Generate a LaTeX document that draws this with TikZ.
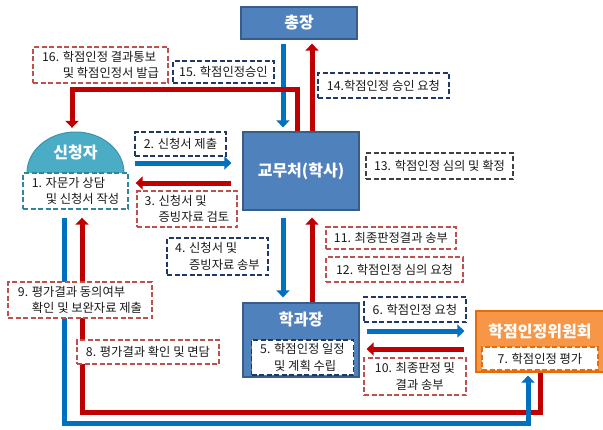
\documentclass[tikz,border=0pt]{standalone}
\usepackage{fontspec}
\setmainfont{Noto Sans CJK KR}
\usetikzlibrary{arrows.meta,calc}
\definecolor{boxblue}{HTML}{4F81BD}
\definecolor{boxblueline}{HTML}{385D8A}
\definecolor{boxteal}{HTML}{4BACC6}
\definecolor{boxtealline}{HTML}{3C93AB}
\definecolor{boxorange}{HTML}{F79646}
\definecolor{boxorangeline}{HTML}{E46C0A}
\definecolor{arrblue}{HTML}{0070C0}
\definecolor{arrred}{HTML}{C00000}
\definecolor{dashred}{HTML}{C0504D}
\definecolor{dashblue}{HTML}{1F3864}
\definecolor{dashgray}{HTML}{404040}
\definecolor{dashteal}{HTML}{31859C}
\definecolor{txtgray}{HTML}{1A1A1A}
\tikzset{
  mainbox/.style={rectangle,fill=boxblue,draw=boxblueline,line width=1.2pt,text=white,
    font=\fontsize{16}{19}\selectfont\bfseries},
  titletext/.style={text=white,font=\fontsize{16}{19}\selectfont\bfseries,inner sep=0pt},
  lbl/.style={rectangle,line width=1.4pt,dash pattern=on 5pt off 2.5pt,fill=white,
    text=txtgray,font=\fontsize{12.3}{16.5}\selectfont,inner sep=1pt,align=left},
  redlbl/.style={lbl,draw=dashred},
  bluelbl/.style={lbl,draw=dashblue},
  graylbl/.style={lbl,draw=dashgray},
  teallbl/.style={lbl,draw=dashteal},
  orangelbl/.style={lbl,draw=boxorangeline},
  bluearr/.style={draw=arrblue,line width=5pt,-{Triangle[width=13pt,length=7pt]}},
  redarr/.style={draw=arrred,line width=5pt,-{Triangle[width=13pt,length=7pt]}}
}
\begin{document}
\begin{tikzpicture}[x=1pt,y=-1pt]
\useasboundingbox (0,0) rectangle (603,429);
%boxes
\node[mainbox,minimum width=116pt,minimum height=32pt] (chong) at (299,23) {총장};
\node[mainbox,minimum width=116pt,minimum height=78pt] (gyomu) at (301,171) {교무처(학사)};
\node[mainbox,minimum width=116pt,minimum height=74pt] (hakgwa) at (301,340) {};
\node[titletext] (hakgwatitle) at (301,319) {학과장};
\node[bluelbl,minimum width=102pt,minimum height=35pt] (step5) at (302.5,357.5)
  {5. 학점인정 일정\\\phantom{5. }및 계획 수립};
\node[rectangle,fill=boxorange,draw=boxorangeline,line width=1.2pt,minimum width=128pt,
  minimum height=61pt] (wiwon) at (540,341.5) {};
\node[titletext] (wiwontitle) at (540,331) {학점인정위원회};
\node[orangelbl,minimum width=116pt,minimum height=23pt] (step7) at (540,358.5) {7. 학점인정 평가};
%dome
\filldraw[fill=boxteal,draw=boxtealline,line width=1pt] (27,173)
  arc[start angle=180,end angle=0,x radius=48.5pt,y radius=41pt];
\node[titletext,minimum width=97pt,minimum height=41pt] (sincheong) at (75.5,152.5) {신청자};
\node[teallbl,minimum width=105pt,minimum height=36pt] (step1) at (75.5,191)
  {1. 자문가 상담\\\phantom{1. }및 신청서 작성};
%arrows
\draw[bluearr,shorten <=4pt,shorten >=4pt] ([xshift=-16pt]chong.south) -- ([xshift=-16pt]chong.south |- gyomu.north);
\draw[redarr,shorten >=4pt] ([xshift=11pt]gyomu.north) -- ([xshift=11pt]gyomu.north |- chong.south);
\draw[redarr,shorten >=4pt] ([xshift=-4pt]gyomu.north) -- ++(0,-42) -| ([xshift=-3.5pt]sincheong.north);
\draw[bluearr,shorten <=11pt,shorten >=11pt] ([yshift=-10.5pt]sincheong.east) -- ([yshift=-10.5pt]sincheong.east -| gyomu.west);
\draw[redarr,shorten <=11pt,shorten >=7pt] ([yshift=-12pt]gyomu.west) -- ([yshift=-12pt]gyomu.west -| step1.east);
\draw[bluearr,shorten <=7pt,shorten >=5pt] ([xshift=-18pt]gyomu.south) -- ([xshift=-18pt]gyomu.south |- hakgwa.north);
\draw[redarr,shorten >=7pt] ([xshift=11pt]hakgwa.north) -- ([xshift=11pt]hakgwa.north |- gyomu.south);
\draw[bluearr,shorten <=7pt,shorten >=11pt] ([yshift=9pt]hakgwa.east) -- ([yshift=9pt]hakgwa.east -| wiwon.west);
\draw[redarr,shorten <=11pt,shorten >=7pt] ([yshift=-9pt]hakgwa.east -| wiwon.west) -- ([yshift=-9pt]hakgwa.east);
\draw[redarr,shorten >=8pt] (wiwon.south) -- ++(0,40) -| ([xshift=6.5pt]step1.south);
\draw[bluearr,shorten <=8pt,shorten >=3pt] ([xshift=-11.5pt]step1.south) -- ++(0,214) -| ([xshift=-12pt]wiwon.south);
%labels
\node[redlbl,minimum width=135pt,minimum height=36pt] (step16) at (100.5,65)
  {16. 학점인정 결과통보\\\phantom{16. }및 학점인정서 발급};
\node[bluelbl,minimum width=101pt,minimum height=22pt] (step15) at (223.5,72) {15. 학점인정승인};
\node[bluelbl,minimum width=131pt,minimum height=25pt] (step14) at (383.5,85.5) {14.학점인정 승인 요청};
\node[bluelbl,minimum width=91pt,minimum height=24pt] (step2) at (180.5,144) {2. 신청서 제출};
\node[redlbl,minimum width=100pt,minimum height=36pt] (step3) at (187,209)
  {3. 신청서 및\\\phantom{3. }증빙자료 검토};
\node[graylbl,minimum width=147pt,minimum height=26pt] (step13) at (439.5,166) {13. 학점인정 심의 및 확정};
\node[bluelbl,minimum width=101pt,minimum height=37pt] (step4) at (217.5,256.5)
  {4. 신청서 및\\\phantom{4. }증빙자료 송부};
\node[redlbl,minimum width=130pt,minimum height=22pt] (step11) at (391,238) {11. 최종판정결과 송부};
\node[redlbl,minimum width=137pt,minimum height=25pt] (step12) at (394.5,269.5) {12. 학점인정 심의 요청};
\node[redlbl,minimum width=144pt,minimum height=36pt] (step9) at (80,300)
  {9. 평가결과 동의여부\\\phantom{9. }확인 및 보완자료 제출};
\node[redlbl,minimum width=142pt,minimum height=24pt] (step8) at (148,352) {8. 평가결과 확인 및 면담};
\node[bluelbl,minimum width=102pt,minimum height=25pt] (step6) at (415,309.5) {6. 학점인정 요청};
\node[redlbl,minimum width=102pt,minimum height=37pt] (step10) at (415,376.5)
  {10. 최종판정 및\\\phantom{10. }결과 송부};
\end{tikzpicture}
\end{document}
